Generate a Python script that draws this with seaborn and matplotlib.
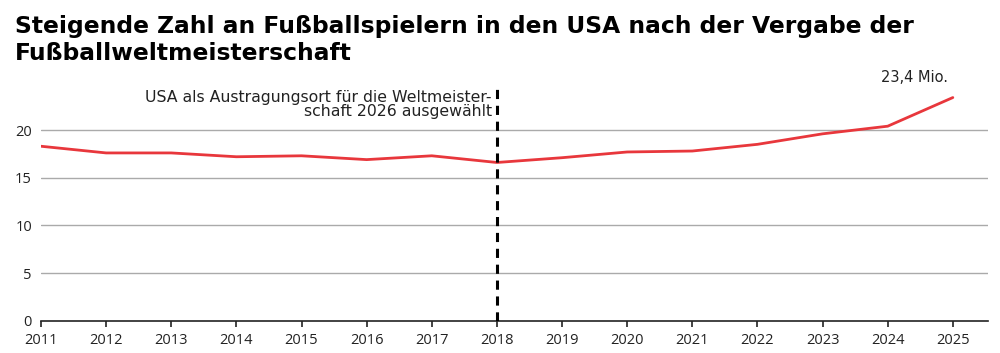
import numpy as np
import pandas as pd
import matplotlib
matplotlib.use('Agg')
import matplotlib.pyplot as plt
import seaborn as sns

# data (Mio. Fußballspieler in den USA)
years = list(range(2011, 2026))
players = [18.3, 17.6, 17.6, 17.2, 17.3, 16.9, 17.3, 16.6, 17.1, 17.7, 17.8, 18.5, 19.6, 20.4, 23.4]
yticks = [0, 5, 10, 15, 20]

title_lines = ['Steigende Zahl an Fußballspielern in den USA nach der Vergabe der',
               'Fußballweltmeisterschaft']
note = 'USA als Austragungsort für die Weltmeister-\nschaft 2026 ausgewählt'
last_label = '23,4 Mio.'

df = pd.DataFrame({'Jahr': years, 'Spieler': players})

sns.set_style('white')
plt.rcParams['font.family'] = ['Open Sans', 'DejaVu Sans']

fig = plt.figure(figsize=(10, 3.53), dpi=100)
ax = fig.add_axes([0.041, 0.0907, 0.947, 0.66])

red = '#e8373c'
sns.lineplot(data=df, x='Jahr', y='Spieler', ax=ax, color=red, linewidth=2)

ax.set_xlim(2011, 2025.54)
ax.set_ylim(0, 24.4)
ax.set_xticks(years)
ax.set_xticklabels([str(y) for y in years], fontsize=10.5)
ax.set_yticks(yticks)
ax.set_yticklabels([str(v) for v in yticks], fontsize=10.5)
ax.set_xlabel('')
ax.set_ylabel('')

for v in yticks[1:]:
    ax.axhline(v, color='#aaaaaa', linewidth=1, zorder=0)

for s in ['top', 'right', 'left']:
    ax.spines[s].set_visible(False)
ax.spines['bottom'].set_color('#222222')
ax.spines['bottom'].set_linewidth(1.2)
ax.tick_params(axis='x', bottom=True, length=4, width=1.2, color='#222222', pad=5, labelcolor='#222222')
ax.tick_params(axis='y', left=False, length=0, pad=6.5, labelcolor='#222222')

# event line
ax.axvline(2018, color='black', linestyle=(0, (3, 2.2)), linewidth=2.2, zorder=3)
ax.text(2017.92, 24.2, note, ha='right', va='top', fontsize=11.3, color='#222222',
        linespacing=0.95, family='DejaVu Sans')

ax.text(2025 - 0.08, 24.7, last_label, ha='right', va='bottom', fontsize=10.5, color='#222222',
        clip_on=False, family='DejaVu Sans')

for i, line in enumerate(title_lines):
    fig.text(0.015, 1 - (33 + 27 * i) / 353, line, ha='left', va='baseline',
             fontsize=16.8, fontweight='bold', color='black', family='DejaVu Sans')

fig.savefig('out.png', dpi=100)
